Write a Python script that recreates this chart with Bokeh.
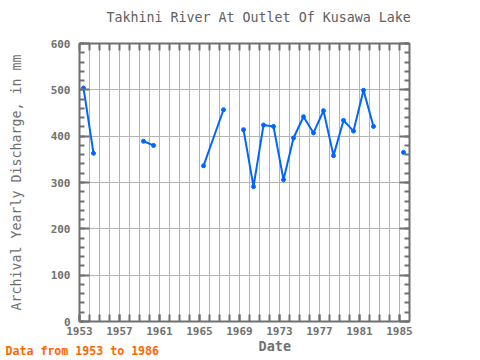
import math
from bokeh.plotting import figure
from bokeh.models import (LinearAxis, FixedTicker, Title, ColumnDataSource, Range1d, Grid)
from bokeh.embed import file_html
from bokeh.resources import INLINE

# ---- data ----
years = [1953, 1954, 1955, 1959, 1960, 1961, 1965, 1967, 1968,
         1969, 1970, 1971, 1972, 1973, 1974, 1975, 1976, 1977, 1978,
         1979, 1980, 1981, 1982, 1983, 1985]
discharge = [504, 363, float("nan"), 389, 380, float("nan"), 336, 457, float("nan"),
             414, 291, 424, 421, 306, 396, 442, 407, 455, 358,
             434, 411, 499, 421, float("nan"), 365]
x_ticks = [1953, 1957, 1961, 1965, 1969, 1973, 1977, 1981, 1985]
y_ticks = [0, 100, 200, 300, 400, 500, 600]

title_text = "Takhini River At Outlet Of Kusawa Lake"
x_label = "Date"
y_label = "Archival Yearly Discharge, in mm"
note_text = "Data from 1953 to 1986"

# points sit near mid-year
xs = [y + 0.4 for y in years]
src = ColumnDataSource(dict(x=xs, y=discharge))
pts = ColumnDataSource(dict(x=[a for a, b in zip(xs, discharge) if not math.isnan(b)],
                            y=[b for b in discharge if not math.isnan(b)]))

FONT = "DejaVu Sans Mono"
GRAY = "#707070"

p = figure(width=480, height=360, output_backend="svg", toolbar_location=None,
           x_range=Range1d(1953, 1986), y_range=Range1d(0, 600),
           min_border_left=79, min_border_right=71, min_border_top=43, min_border_bottom=39,
           x_axis_type=None, y_axis_type=None)
p.outline_line_color = None
p.background_fill_color = "white"

all_years = list(range(1953, 1986))
minor_y = list(range(0, 601, 20))

def style_axis(ax, show_labels):
    ax.axis_line_color = GRAY
    ax.axis_line_width = 2
    ax.major_tick_line_color = GRAY
    ax.minor_tick_line_color = GRAY
    ax.major_tick_line_width = 2
    ax.minor_tick_line_width = 2
    ax.major_tick_out = 0
    ax.minor_tick_out = 0
    ax.major_label_text_font = FONT
    ax.major_label_text_font_style = "bold"
    ax.major_label_text_font_size = "11px"
    ax.major_label_text_color = GRAY if show_labels else None

xb = LinearAxis(ticker=FixedTicker(ticks=x_ticks, minor_ticks=all_years))
style_axis(xb, True)
xb.major_tick_in = 7
xb.minor_tick_in = 7
xb.major_label_standoff = 5
p.add_layout(xb, "below")

# top axis: visible ticks are the yearly minor ticks; the (hidden) major
# ticks reserve the space between the frame and the title
xt = LinearAxis(ticker=FixedTicker(ticks=x_ticks, minor_ticks=all_years))
style_axis(xt, False)
xt.major_tick_line_color = None
xt.major_tick_in = 0
xt.major_tick_out = 18
xt.minor_tick_in = 7
p.add_layout(xt, "above")

yl = LinearAxis(ticker=FixedTicker(ticks=y_ticks, minor_ticks=minor_y))
style_axis(yl, True)
yl.major_tick_in = 10
yl.minor_tick_in = 5
yl.major_label_standoff = 9
yl.axis_label = y_label
yl.axis_label_standoff = 24
yl.axis_label_text_font = FONT
yl.axis_label_text_font_size = "13.3px"
yl.axis_label_text_font_style = "normal"
yl.axis_label_text_color = GRAY
p.add_layout(yl, "left")

yr = LinearAxis(ticker=FixedTicker(ticks=y_ticks, minor_ticks=minor_y))
style_axis(yr, False)
yr.major_tick_in = 10
yr.minor_tick_in = 5
p.add_layout(yr, "right")

p.add_layout(Grid(dimension=0, ticker=FixedTicker(ticks=all_years),
                  grid_line_color="#b4b4b4", grid_line_width=1))
p.add_layout(Grid(dimension=1, ticker=FixedTicker(ticks=y_ticks),
                  grid_line_color="#b4b4b4", grid_line_width=1))

p.line("x", "y", source=src, line_color="#0066FF", line_width=2)
p.scatter("x", "y", source=pts, size=4, color="#0066FF")

# titles / captions
p.add_layout(Title(text=title_text, align="left", offset=27, vertical_align="middle",
                   standoff=0, text_font=FONT, text_font_size="13.3px",
                   text_font_style="normal", text_color="#606060"), "above")
p.add_layout(Title(text=x_label, align="left", offset=179, vertical_align="top",
                   standoff=0, text_font=FONT, text_font_size="13.5px",
                   text_font_style="bold", text_color=GRAY), "below")
p.add_layout(Title(text=note_text, align="left", offset=-74, vertical_align="top",
                   standoff=-24, text_font=FONT, text_font_size="11.6px",
                   text_font_style="bold", text_color="#FF6600"), "below")

open("out.html", "w").write(file_html(p, INLINE))
